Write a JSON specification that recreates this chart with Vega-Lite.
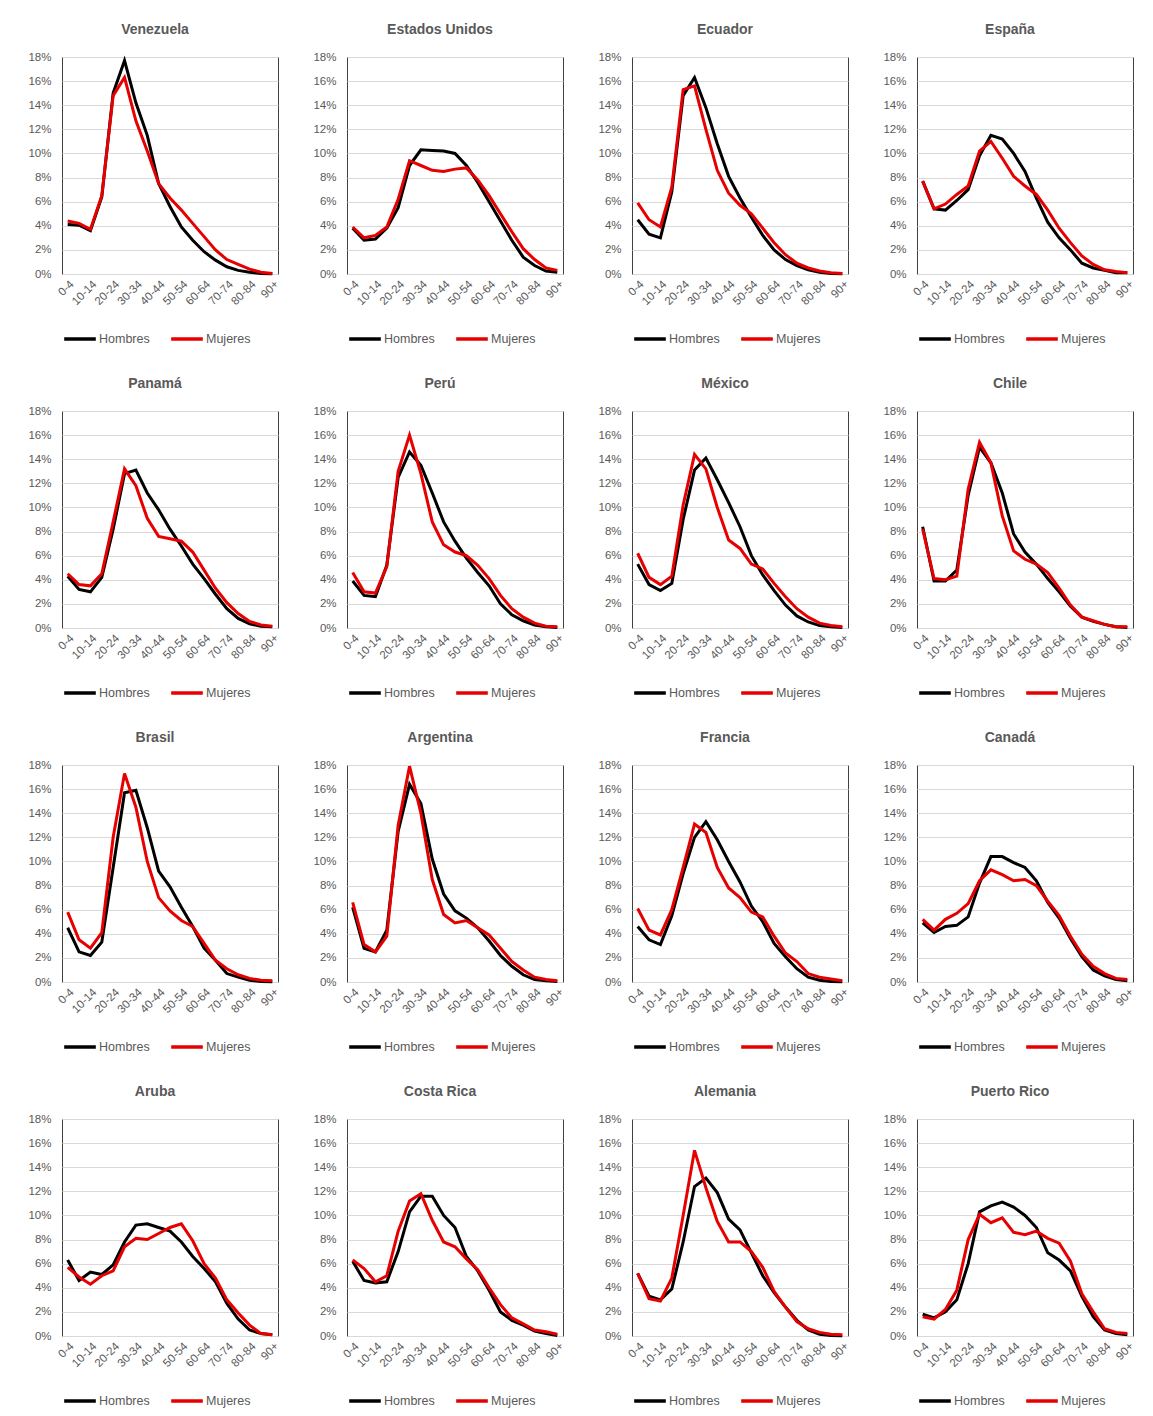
{
"$schema":"https://vega.github.io/schema/vega-lite/v6.json",
"padding":{"left":27,"top":22,"right":5,"bottom":5},
"background":"white",
"data":{"values":[
{"p":"Venezuela","g":"0-4","Hombres":4.1,"Mujeres":4.4},{"p":"Venezuela","g":"5-9","Hombres":4.05,"Mujeres":4.2},{"p":"Venezuela","g":"10-14","Hombres":3.6,"Mujeres":3.7},{"p":"Venezuela","g":"15-19","Hombres":6.4,"Mujeres":6.5},{"p":"Venezuela","g":"20-24","Hombres":15.0,"Mujeres":14.8},{"p":"Venezuela","g":"25-29","Hombres":17.7,"Mujeres":16.3},{"p":"Venezuela","g":"30-34","Hombres":14.2,"Mujeres":12.7},{"p":"Venezuela","g":"35-39","Hombres":11.5,"Mujeres":10.2},{"p":"Venezuela","g":"40-44","Hombres":7.5,"Mujeres":7.5},{"p":"Venezuela","g":"45-49","Hombres":5.6,"Mujeres":6.3},{"p":"Venezuela","g":"50-54","Hombres":3.9,"Mujeres":5.3},{"p":"Venezuela","g":"55-59","Hombres":2.8,"Mujeres":4.2},{"p":"Venezuela","g":"60-64","Hombres":1.85,"Mujeres":3.1},{"p":"Venezuela","g":"65-69","Hombres":1.15,"Mujeres":2.0},{"p":"Venezuela","g":"70-74","Hombres":0.6,"Mujeres":1.2},{"p":"Venezuela","g":"75-79","Hombres":0.3,"Mujeres":0.8},{"p":"Venezuela","g":"80-84","Hombres":0.15,"Mujeres":0.4},{"p":"Venezuela","g":"85-89","Hombres":0.05,"Mujeres":0.15},{"p":"Venezuela","g":"90+","Hombres":0.02,"Mujeres":0.05},
{"p":"Estados Unidos","g":"0-4","Hombres":3.8,"Mujeres":3.9},{"p":"Estados Unidos","g":"5-9","Hombres":2.8,"Mujeres":3.0},{"p":"Estados Unidos","g":"10-14","Hombres":2.9,"Mujeres":3.2},{"p":"Estados Unidos","g":"15-19","Hombres":3.8,"Mujeres":3.9},{"p":"Estados Unidos","g":"20-24","Hombres":5.5,"Mujeres":6.2},{"p":"Estados Unidos","g":"25-29","Hombres":9.0,"Mujeres":9.4},{"p":"Estados Unidos","g":"30-34","Hombres":10.3,"Mujeres":9.0},{"p":"Estados Unidos","g":"35-39","Hombres":10.25,"Mujeres":8.6},{"p":"Estados Unidos","g":"40-44","Hombres":10.2,"Mujeres":8.5},{"p":"Estados Unidos","g":"45-49","Hombres":10.0,"Mujeres":8.7},{"p":"Estados Unidos","g":"50-54","Hombres":9.0,"Mujeres":8.8},{"p":"Estados Unidos","g":"55-59","Hombres":7.6,"Mujeres":7.8},{"p":"Estados Unidos","g":"60-64","Hombres":6.0,"Mujeres":6.5},{"p":"Estados Unidos","g":"65-69","Hombres":4.4,"Mujeres":5.0},{"p":"Estados Unidos","g":"70-74","Hombres":2.8,"Mujeres":3.5},{"p":"Estados Unidos","g":"75-79","Hombres":1.4,"Mujeres":2.1},{"p":"Estados Unidos","g":"80-84","Hombres":0.7,"Mujeres":1.2},{"p":"Estados Unidos","g":"85-89","Hombres":0.25,"Mujeres":0.5},{"p":"Estados Unidos","g":"90+","Hombres":0.15,"Mujeres":0.3},
{"p":"Ecuador","g":"0-4","Hombres":4.5,"Mujeres":5.9},{"p":"Ecuador","g":"5-9","Hombres":3.3,"Mujeres":4.5},{"p":"Ecuador","g":"10-14","Hombres":3.0,"Mujeres":3.9},{"p":"Ecuador","g":"15-19","Hombres":6.8,"Mujeres":7.2},{"p":"Ecuador","g":"20-24","Hombres":14.8,"Mujeres":15.3},{"p":"Ecuador","g":"25-29","Hombres":16.3,"Mujeres":15.6},{"p":"Ecuador","g":"30-34","Hombres":13.8,"Mujeres":12.0},{"p":"Ecuador","g":"35-39","Hombres":10.8,"Mujeres":8.6},{"p":"Ecuador","g":"40-44","Hombres":8.1,"Mujeres":6.7},{"p":"Ecuador","g":"45-49","Hombres":6.3,"Mujeres":5.7},{"p":"Ecuador","g":"50-54","Hombres":4.7,"Mujeres":5.0},{"p":"Ecuador","g":"55-59","Hombres":3.2,"Mujeres":3.8},{"p":"Ecuador","g":"60-64","Hombres":2.0,"Mujeres":2.6},{"p":"Ecuador","g":"65-69","Hombres":1.2,"Mujeres":1.6},{"p":"Ecuador","g":"70-74","Hombres":0.7,"Mujeres":0.9},{"p":"Ecuador","g":"75-79","Hombres":0.35,"Mujeres":0.5},{"p":"Ecuador","g":"80-84","Hombres":0.15,"Mujeres":0.25},{"p":"Ecuador","g":"85-89","Hombres":0.05,"Mujeres":0.1},{"p":"Ecuador","g":"90+","Hombres":0.02,"Mujeres":0.05},
{"p":"España","g":"0-4","Hombres":7.7,"Mujeres":7.7},{"p":"España","g":"5-9","Hombres":5.4,"Mujeres":5.4},{"p":"España","g":"10-14","Hombres":5.3,"Mujeres":5.8},{"p":"España","g":"15-19","Hombres":6.1,"Mujeres":6.6},{"p":"España","g":"20-24","Hombres":7.0,"Mujeres":7.3},{"p":"España","g":"25-29","Hombres":9.8,"Mujeres":10.2},{"p":"España","g":"30-34","Hombres":11.5,"Mujeres":11.0},{"p":"España","g":"35-39","Hombres":11.2,"Mujeres":9.6},{"p":"España","g":"40-44","Hombres":10.0,"Mujeres":8.1},{"p":"España","g":"45-49","Hombres":8.5,"Mujeres":7.3},{"p":"España","g":"50-54","Hombres":6.3,"Mujeres":6.6},{"p":"España","g":"55-59","Hombres":4.3,"Mujeres":5.3},{"p":"España","g":"60-64","Hombres":3.0,"Mujeres":3.8},{"p":"España","g":"65-69","Hombres":2.0,"Mujeres":2.6},{"p":"España","g":"70-74","Hombres":0.9,"Mujeres":1.5},{"p":"España","g":"75-79","Hombres":0.5,"Mujeres":0.8},{"p":"España","g":"80-84","Hombres":0.3,"Mujeres":0.35},{"p":"España","g":"85-89","Hombres":0.1,"Mujeres":0.2},{"p":"España","g":"90+","Hombres":0.1,"Mujeres":0.1},
{"p":"Panamá","g":"0-4","Hombres":4.3,"Mujeres":4.5},{"p":"Panamá","g":"5-9","Hombres":3.2,"Mujeres":3.6},{"p":"Panamá","g":"10-14","Hombres":3.0,"Mujeres":3.5},{"p":"Panamá","g":"15-19","Hombres":4.2,"Mujeres":4.5},{"p":"Panamá","g":"20-24","Hombres":8.2,"Mujeres":8.8},{"p":"Panamá","g":"25-29","Hombres":12.8,"Mujeres":13.2},{"p":"Panamá","g":"30-34","Hombres":13.1,"Mujeres":11.8},{"p":"Panamá","g":"35-39","Hombres":11.2,"Mujeres":9.1},{"p":"Panamá","g":"40-44","Hombres":9.8,"Mujeres":7.6},{"p":"Panamá","g":"45-49","Hombres":8.2,"Mujeres":7.4},{"p":"Panamá","g":"50-54","Hombres":6.8,"Mujeres":7.2},{"p":"Panamá","g":"55-59","Hombres":5.3,"Mujeres":6.3},{"p":"Panamá","g":"60-64","Hombres":4.1,"Mujeres":4.8},{"p":"Panamá","g":"65-69","Hombres":2.8,"Mujeres":3.3},{"p":"Panamá","g":"70-74","Hombres":1.6,"Mujeres":2.1},{"p":"Panamá","g":"75-79","Hombres":0.8,"Mujeres":1.2},{"p":"Panamá","g":"80-84","Hombres":0.35,"Mujeres":0.55},{"p":"Panamá","g":"85-89","Hombres":0.15,"Mujeres":0.25},{"p":"Panamá","g":"90+","Hombres":0.1,"Mujeres":0.15},
{"p":"Perú","g":"0-4","Hombres":3.9,"Mujeres":4.6},{"p":"Perú","g":"5-9","Hombres":2.7,"Mujeres":3.0},{"p":"Perú","g":"10-14","Hombres":2.6,"Mujeres":2.9},{"p":"Perú","g":"15-19","Hombres":5.2,"Mujeres":5.1},{"p":"Perú","g":"20-24","Hombres":12.5,"Mujeres":13.0},{"p":"Perú","g":"25-29","Hombres":14.6,"Mujeres":16.0},{"p":"Perú","g":"30-34","Hombres":13.5,"Mujeres":12.8},{"p":"Perú","g":"35-39","Hombres":11.2,"Mujeres":8.8},{"p":"Perú","g":"40-44","Hombres":8.8,"Mujeres":6.9},{"p":"Perú","g":"45-49","Hombres":7.2,"Mujeres":6.3},{"p":"Perú","g":"50-54","Hombres":5.8,"Mujeres":6.0},{"p":"Perú","g":"55-59","Hombres":4.6,"Mujeres":5.2},{"p":"Perú","g":"60-64","Hombres":3.5,"Mujeres":4.1},{"p":"Perú","g":"65-69","Hombres":2.0,"Mujeres":2.7},{"p":"Perú","g":"70-74","Hombres":1.1,"Mujeres":1.6},{"p":"Perú","g":"75-79","Hombres":0.6,"Mujeres":0.9},{"p":"Perú","g":"80-84","Hombres":0.25,"Mujeres":0.4},{"p":"Perú","g":"85-89","Hombres":0.1,"Mujeres":0.15},{"p":"Perú","g":"90+","Hombres":0.05,"Mujeres":0.1},
{"p":"México","g":"0-4","Hombres":5.3,"Mujeres":6.2},{"p":"México","g":"5-9","Hombres":3.6,"Mujeres":4.2},{"p":"México","g":"10-14","Hombres":3.1,"Mujeres":3.6},{"p":"México","g":"15-19","Hombres":3.7,"Mujeres":4.3},{"p":"México","g":"20-24","Hombres":9.0,"Mujeres":10.2},{"p":"México","g":"25-29","Hombres":13.1,"Mujeres":14.4},{"p":"México","g":"30-34","Hombres":14.1,"Mujeres":13.2},{"p":"México","g":"35-39","Hombres":12.3,"Mujeres":10.0},{"p":"México","g":"40-44","Hombres":10.4,"Mujeres":7.3},{"p":"México","g":"45-49","Hombres":8.4,"Mujeres":6.6},{"p":"México","g":"50-54","Hombres":6.0,"Mujeres":5.3},{"p":"México","g":"55-59","Hombres":4.4,"Mujeres":4.9},{"p":"México","g":"60-64","Hombres":3.1,"Mujeres":3.7},{"p":"México","g":"65-69","Hombres":1.9,"Mujeres":2.6},{"p":"México","g":"70-74","Hombres":1.0,"Mujeres":1.6},{"p":"México","g":"75-79","Hombres":0.5,"Mujeres":0.9},{"p":"México","g":"80-84","Hombres":0.2,"Mujeres":0.4},{"p":"México","g":"85-89","Hombres":0.1,"Mujeres":0.2},{"p":"México","g":"90+","Hombres":0.05,"Mujeres":0.1},
{"p":"Chile","g":"0-4","Hombres":8.4,"Mujeres":8.2},{"p":"Chile","g":"5-9","Hombres":3.9,"Mujeres":4.1},{"p":"Chile","g":"10-14","Hombres":3.9,"Mujeres":4.0},{"p":"Chile","g":"15-19","Hombres":4.8,"Mujeres":4.3},{"p":"Chile","g":"20-24","Hombres":11.0,"Mujeres":11.5},{"p":"Chile","g":"25-29","Hombres":15.0,"Mujeres":15.4},{"p":"Chile","g":"30-34","Hombres":13.7,"Mujeres":13.7},{"p":"Chile","g":"35-39","Hombres":11.2,"Mujeres":9.3},{"p":"Chile","g":"40-44","Hombres":7.8,"Mujeres":6.4},{"p":"Chile","g":"45-49","Hombres":6.3,"Mujeres":5.7},{"p":"Chile","g":"50-54","Hombres":5.3,"Mujeres":5.3},{"p":"Chile","g":"55-59","Hombres":4.1,"Mujeres":4.6},{"p":"Chile","g":"60-64","Hombres":3.0,"Mujeres":3.3},{"p":"Chile","g":"65-69","Hombres":1.8,"Mujeres":1.9},{"p":"Chile","g":"70-74","Hombres":0.9,"Mujeres":0.9},{"p":"Chile","g":"75-79","Hombres":0.55,"Mujeres":0.6},{"p":"Chile","g":"80-84","Hombres":0.3,"Mujeres":0.3},{"p":"Chile","g":"85-89","Hombres":0.1,"Mujeres":0.1},{"p":"Chile","g":"90+","Hombres":0.05,"Mujeres":0.1},
{"p":"Brasil","g":"0-4","Hombres":4.5,"Mujeres":5.8},{"p":"Brasil","g":"5-9","Hombres":2.5,"Mujeres":3.5},{"p":"Brasil","g":"10-14","Hombres":2.2,"Mujeres":2.8},{"p":"Brasil","g":"15-19","Hombres":3.3,"Mujeres":4.1},{"p":"Brasil","g":"20-24","Hombres":9.5,"Mujeres":12.0},{"p":"Brasil","g":"25-29","Hombres":15.7,"Mujeres":17.3},{"p":"Brasil","g":"30-34","Hombres":15.9,"Mujeres":14.5},{"p":"Brasil","g":"35-39","Hombres":12.8,"Mujeres":10.0},{"p":"Brasil","g":"40-44","Hombres":9.2,"Mujeres":7.0},{"p":"Brasil","g":"45-49","Hombres":7.9,"Mujeres":5.9},{"p":"Brasil","g":"50-54","Hombres":6.2,"Mujeres":5.1},{"p":"Brasil","g":"55-59","Hombres":4.6,"Mujeres":4.6},{"p":"Brasil","g":"60-64","Hombres":2.8,"Mujeres":3.2},{"p":"Brasil","g":"65-69","Hombres":1.8,"Mujeres":1.8},{"p":"Brasil","g":"70-74","Hombres":0.7,"Mujeres":1.1},{"p":"Brasil","g":"75-79","Hombres":0.4,"Mujeres":0.6},{"p":"Brasil","g":"80-84","Hombres":0.15,"Mujeres":0.3},{"p":"Brasil","g":"85-89","Hombres":0.05,"Mujeres":0.15},{"p":"Brasil","g":"90+","Hombres":0.02,"Mujeres":0.1},
{"p":"Argentina","g":"0-4","Hombres":6.2,"Mujeres":6.6},{"p":"Argentina","g":"5-9","Hombres":2.8,"Mujeres":3.1},{"p":"Argentina","g":"10-14","Hombres":2.5,"Mujeres":2.5},{"p":"Argentina","g":"15-19","Hombres":4.3,"Mujeres":3.8},{"p":"Argentina","g":"20-24","Hombres":12.5,"Mujeres":13.0},{"p":"Argentina","g":"25-29","Hombres":16.4,"Mujeres":17.9},{"p":"Argentina","g":"30-34","Hombres":14.8,"Mujeres":14.0},{"p":"Argentina","g":"35-39","Hombres":10.2,"Mujeres":8.5},{"p":"Argentina","g":"40-44","Hombres":7.3,"Mujeres":5.6},{"p":"Argentina","g":"45-49","Hombres":5.9,"Mujeres":4.9},{"p":"Argentina","g":"50-54","Hombres":5.3,"Mujeres":5.1},{"p":"Argentina","g":"55-59","Hombres":4.5,"Mujeres":4.5},{"p":"Argentina","g":"60-64","Hombres":3.4,"Mujeres":3.9},{"p":"Argentina","g":"65-69","Hombres":2.2,"Mujeres":2.8},{"p":"Argentina","g":"70-74","Hombres":1.3,"Mujeres":1.7},{"p":"Argentina","g":"75-79","Hombres":0.6,"Mujeres":1.0},{"p":"Argentina","g":"80-84","Hombres":0.2,"Mujeres":0.4},{"p":"Argentina","g":"85-89","Hombres":0.1,"Mujeres":0.2},{"p":"Argentina","g":"90+","Hombres":0.05,"Mujeres":0.1},
{"p":"Francia","g":"0-4","Hombres":4.6,"Mujeres":6.1},{"p":"Francia","g":"5-9","Hombres":3.5,"Mujeres":4.3},{"p":"Francia","g":"10-14","Hombres":3.1,"Mujeres":3.9},{"p":"Francia","g":"15-19","Hombres":5.5,"Mujeres":6.0},{"p":"Francia","g":"20-24","Hombres":9.0,"Mujeres":9.5},{"p":"Francia","g":"25-29","Hombres":12.0,"Mujeres":13.1},{"p":"Francia","g":"30-34","Hombres":13.3,"Mujeres":12.4},{"p":"Francia","g":"35-39","Hombres":11.8,"Mujeres":9.5},{"p":"Francia","g":"40-44","Hombres":10.0,"Mujeres":7.8},{"p":"Francia","g":"45-49","Hombres":8.3,"Mujeres":7.0},{"p":"Francia","g":"50-54","Hombres":6.3,"Mujeres":5.8},{"p":"Francia","g":"55-59","Hombres":5.0,"Mujeres":5.4},{"p":"Francia","g":"60-64","Hombres":3.2,"Mujeres":3.8},{"p":"Francia","g":"65-69","Hombres":2.1,"Mujeres":2.4},{"p":"Francia","g":"70-74","Hombres":1.1,"Mujeres":1.7},{"p":"Francia","g":"75-79","Hombres":0.4,"Mujeres":0.7},{"p":"Francia","g":"80-84","Hombres":0.15,"Mujeres":0.4},{"p":"Francia","g":"85-89","Hombres":0.05,"Mujeres":0.25},{"p":"Francia","g":"90+","Hombres":0.02,"Mujeres":0.1},
{"p":"Canadá","g":"0-4","Hombres":4.9,"Mujeres":5.2},{"p":"Canadá","g":"5-9","Hombres":4.1,"Mujeres":4.3},{"p":"Canadá","g":"10-14","Hombres":4.6,"Mujeres":5.2},{"p":"Canadá","g":"15-19","Hombres":4.7,"Mujeres":5.7},{"p":"Canadá","g":"20-24","Hombres":5.4,"Mujeres":6.5},{"p":"Canadá","g":"25-29","Hombres":8.2,"Mujeres":8.4},{"p":"Canadá","g":"30-34","Hombres":10.4,"Mujeres":9.3},{"p":"Canadá","g":"35-39","Hombres":10.4,"Mujeres":8.9},{"p":"Canadá","g":"40-44","Hombres":9.9,"Mujeres":8.4},{"p":"Canadá","g":"45-49","Hombres":9.5,"Mujeres":8.5},{"p":"Canadá","g":"50-54","Hombres":8.4,"Mujeres":8.0},{"p":"Canadá","g":"55-59","Hombres":6.6,"Mujeres":6.7},{"p":"Canadá","g":"60-64","Hombres":5.3,"Mujeres":5.5},{"p":"Canadá","g":"65-69","Hombres":3.6,"Mujeres":3.8},{"p":"Canadá","g":"70-74","Hombres":2.1,"Mujeres":2.3},{"p":"Canadá","g":"75-79","Hombres":1.0,"Mujeres":1.3},{"p":"Canadá","g":"80-84","Hombres":0.5,"Mujeres":0.7},{"p":"Canadá","g":"85-89","Hombres":0.2,"Mujeres":0.3},{"p":"Canadá","g":"90+","Hombres":0.1,"Mujeres":0.2},
{"p":"Aruba","g":"0-4","Hombres":6.3,"Mujeres":5.7},{"p":"Aruba","g":"5-9","Hombres":4.6,"Mujeres":4.9},{"p":"Aruba","g":"10-14","Hombres":5.3,"Mujeres":4.3},{"p":"Aruba","g":"15-19","Hombres":5.1,"Mujeres":5.0},{"p":"Aruba","g":"20-24","Hombres":5.9,"Mujeres":5.4},{"p":"Aruba","g":"25-29","Hombres":7.8,"Mujeres":7.4},{"p":"Aruba","g":"30-34","Hombres":9.2,"Mujeres":8.1},{"p":"Aruba","g":"35-39","Hombres":9.3,"Mujeres":8.0},{"p":"Aruba","g":"40-44","Hombres":9.0,"Mujeres":8.5},{"p":"Aruba","g":"45-49","Hombres":8.7,"Mujeres":9.0},{"p":"Aruba","g":"50-54","Hombres":7.8,"Mujeres":9.3},{"p":"Aruba","g":"55-59","Hombres":6.6,"Mujeres":7.9},{"p":"Aruba","g":"60-64","Hombres":5.6,"Mujeres":6.0},{"p":"Aruba","g":"65-69","Hombres":4.5,"Mujeres":4.8},{"p":"Aruba","g":"70-74","Hombres":2.7,"Mujeres":3.0},{"p":"Aruba","g":"75-79","Hombres":1.4,"Mujeres":1.9},{"p":"Aruba","g":"80-84","Hombres":0.5,"Mujeres":0.9},{"p":"Aruba","g":"85-89","Hombres":0.2,"Mujeres":0.2},{"p":"Aruba","g":"90+","Hombres":0.1,"Mujeres":0.1},
{"p":"Costa Rica","g":"0-4","Hombres":6.2,"Mujeres":6.3},{"p":"Costa Rica","g":"5-9","Hombres":4.6,"Mujeres":5.6},{"p":"Costa Rica","g":"10-14","Hombres":4.4,"Mujeres":4.5},{"p":"Costa Rica","g":"15-19","Hombres":4.5,"Mujeres":5.0},{"p":"Costa Rica","g":"20-24","Hombres":7.0,"Mujeres":8.7},{"p":"Costa Rica","g":"25-29","Hombres":10.3,"Mujeres":11.2},{"p":"Costa Rica","g":"30-34","Hombres":11.6,"Mujeres":11.8},{"p":"Costa Rica","g":"35-39","Hombres":11.6,"Mujeres":9.6},{"p":"Costa Rica","g":"40-44","Hombres":10.0,"Mujeres":7.8},{"p":"Costa Rica","g":"45-49","Hombres":9.0,"Mujeres":7.4},{"p":"Costa Rica","g":"50-54","Hombres":6.6,"Mujeres":6.4},{"p":"Costa Rica","g":"55-59","Hombres":5.4,"Mujeres":5.5},{"p":"Costa Rica","g":"60-64","Hombres":3.8,"Mujeres":4.0},{"p":"Costa Rica","g":"65-69","Hombres":2.0,"Mujeres":2.6},{"p":"Costa Rica","g":"70-74","Hombres":1.3,"Mujeres":1.5},{"p":"Costa Rica","g":"75-79","Hombres":0.9,"Mujeres":1.0},{"p":"Costa Rica","g":"80-84","Hombres":0.4,"Mujeres":0.5},{"p":"Costa Rica","g":"85-89","Hombres":0.2,"Mujeres":0.35},{"p":"Costa Rica","g":"90+","Hombres":0.05,"Mujeres":0.15},
{"p":"Alemania","g":"0-4","Hombres":5.2,"Mujeres":5.2},{"p":"Alemania","g":"5-9","Hombres":3.3,"Mujeres":3.1},{"p":"Alemania","g":"10-14","Hombres":3.0,"Mujeres":2.9},{"p":"Alemania","g":"15-19","Hombres":3.9,"Mujeres":4.8},{"p":"Alemania","g":"20-24","Hombres":7.8,"Mujeres":10.0},{"p":"Alemania","g":"25-29","Hombres":12.4,"Mujeres":15.4},{"p":"Alemania","g":"30-34","Hombres":13.1,"Mujeres":12.3},{"p":"Alemania","g":"35-39","Hombres":11.9,"Mujeres":9.5},{"p":"Alemania","g":"40-44","Hombres":9.7,"Mujeres":7.8},{"p":"Alemania","g":"45-49","Hombres":8.8,"Mujeres":7.8},{"p":"Alemania","g":"50-54","Hombres":6.9,"Mujeres":7.0},{"p":"Alemania","g":"55-59","Hombres":5.0,"Mujeres":5.7},{"p":"Alemania","g":"60-64","Hombres":3.6,"Mujeres":3.7},{"p":"Alemania","g":"65-69","Hombres":2.4,"Mujeres":2.4},{"p":"Alemania","g":"70-74","Hombres":1.3,"Mujeres":1.2},{"p":"Alemania","g":"75-79","Hombres":0.5,"Mujeres":0.6},{"p":"Alemania","g":"80-84","Hombres":0.15,"Mujeres":0.3},{"p":"Alemania","g":"85-89","Hombres":0.05,"Mujeres":0.15},{"p":"Alemania","g":"90+","Hombres":0.02,"Mujeres":0.1},
{"p":"Puerto Rico","g":"0-4","Hombres":1.8,"Mujeres":1.6},{"p":"Puerto Rico","g":"5-9","Hombres":1.5,"Mujeres":1.4},{"p":"Puerto Rico","g":"10-14","Hombres":2.0,"Mujeres":2.2},{"p":"Puerto Rico","g":"15-19","Hombres":3.0,"Mujeres":3.8},{"p":"Puerto Rico","g":"20-24","Hombres":6.0,"Mujeres":8.0},{"p":"Puerto Rico","g":"25-29","Hombres":10.3,"Mujeres":10.1},{"p":"Puerto Rico","g":"30-34","Hombres":10.8,"Mujeres":9.4},{"p":"Puerto Rico","g":"35-39","Hombres":11.1,"Mujeres":9.8},{"p":"Puerto Rico","g":"40-44","Hombres":10.7,"Mujeres":8.6},{"p":"Puerto Rico","g":"45-49","Hombres":10.0,"Mujeres":8.4},{"p":"Puerto Rico","g":"50-54","Hombres":9.0,"Mujeres":8.7},{"p":"Puerto Rico","g":"55-59","Hombres":6.9,"Mujeres":8.1},{"p":"Puerto Rico","g":"60-64","Hombres":6.3,"Mujeres":7.7},{"p":"Puerto Rico","g":"65-69","Hombres":5.4,"Mujeres":6.2},{"p":"Puerto Rico","g":"70-74","Hombres":3.3,"Mujeres":3.5},{"p":"Puerto Rico","g":"75-79","Hombres":1.6,"Mujeres":2.0},{"p":"Puerto Rico","g":"80-84","Hombres":0.5,"Mujeres":0.6},{"p":"Puerto Rico","g":"85-89","Hombres":0.2,"Mujeres":0.3},{"p":"Puerto Rico","g":"90+","Hombres":0.1,"Mujeres":0.2}
]},
"transform":[{"fold":["Hombres","Mujeres"],"as":["s","v"]}],
"columns":4,
"spacing":{"row":29,"column":31},
"resolve":{"scale":{"color":"independent"}},
"concat":[
{"title":"Venezuela","width":216,"height":217,"transform":[{"filter":"datum.p==='Venezuela'"}],"mark":{"type":"line","strokeWidth":3},"encoding":{"x":{"field":"g","type":"ordinal","title":null,"scale":{"domain":["0-4","5-9","10-14","15-19","20-24","25-29","30-34","35-39","40-44","45-49","50-54","55-59","60-64","65-69","70-74","75-79","80-84","85-89","90+"]},"axis":{"values":["0-4","10-14","20-24","30-34","40-44","50-54","60-64","70-74","80-84","90+"]}},"y":{"field":"v","type":"quantitative","title":null,"scale":{"domain":[0,18]},"axis":{"labelExpr":"datum.value + '%'"}},"color":{"field":"s","type":"nominal","legend":{"title":null}}}},
{"title":"Estados Unidos","width":216,"height":217,"transform":[{"filter":"datum.p==='Estados Unidos'"}],"mark":{"type":"line","strokeWidth":3},"encoding":{"x":{"field":"g","type":"ordinal","title":null,"scale":{"domain":["0-4","5-9","10-14","15-19","20-24","25-29","30-34","35-39","40-44","45-49","50-54","55-59","60-64","65-69","70-74","75-79","80-84","85-89","90+"]},"axis":{"values":["0-4","10-14","20-24","30-34","40-44","50-54","60-64","70-74","80-84","90+"]}},"y":{"field":"v","type":"quantitative","title":null,"scale":{"domain":[0,18]},"axis":{"labelExpr":"datum.value + '%'"}},"color":{"field":"s","type":"nominal","legend":{"title":null}}}},
{"title":"Ecuador","width":216,"height":217,"transform":[{"filter":"datum.p==='Ecuador'"}],"mark":{"type":"line","strokeWidth":3},"encoding":{"x":{"field":"g","type":"ordinal","title":null,"scale":{"domain":["0-4","5-9","10-14","15-19","20-24","25-29","30-34","35-39","40-44","45-49","50-54","55-59","60-64","65-69","70-74","75-79","80-84","85-89","90+"]},"axis":{"values":["0-4","10-14","20-24","30-34","40-44","50-54","60-64","70-74","80-84","90+"]}},"y":{"field":"v","type":"quantitative","title":null,"scale":{"domain":[0,18]},"axis":{"labelExpr":"datum.value + '%'"}},"color":{"field":"s","type":"nominal","legend":{"title":null}}}},
{"title":"España","width":216,"height":217,"transform":[{"filter":"datum.p==='España'"}],"mark":{"type":"line","strokeWidth":3},"encoding":{"x":{"field":"g","type":"ordinal","title":null,"scale":{"domain":["0-4","5-9","10-14","15-19","20-24","25-29","30-34","35-39","40-44","45-49","50-54","55-59","60-64","65-69","70-74","75-79","80-84","85-89","90+"]},"axis":{"values":["0-4","10-14","20-24","30-34","40-44","50-54","60-64","70-74","80-84","90+"]}},"y":{"field":"v","type":"quantitative","title":null,"scale":{"domain":[0,18]},"axis":{"labelExpr":"datum.value + '%'"}},"color":{"field":"s","type":"nominal","legend":{"title":null}}}},
{"title":"Panamá","width":216,"height":217,"transform":[{"filter":"datum.p==='Panamá'"}],"mark":{"type":"line","strokeWidth":3},"encoding":{"x":{"field":"g","type":"ordinal","title":null,"scale":{"domain":["0-4","5-9","10-14","15-19","20-24","25-29","30-34","35-39","40-44","45-49","50-54","55-59","60-64","65-69","70-74","75-79","80-84","85-89","90+"]},"axis":{"values":["0-4","10-14","20-24","30-34","40-44","50-54","60-64","70-74","80-84","90+"]}},"y":{"field":"v","type":"quantitative","title":null,"scale":{"domain":[0,18]},"axis":{"labelExpr":"datum.value + '%'"}},"color":{"field":"s","type":"nominal","legend":{"title":null}}}},
{"title":"Perú","width":216,"height":217,"transform":[{"filter":"datum.p==='Perú'"}],"mark":{"type":"line","strokeWidth":3},"encoding":{"x":{"field":"g","type":"ordinal","title":null,"scale":{"domain":["0-4","5-9","10-14","15-19","20-24","25-29","30-34","35-39","40-44","45-49","50-54","55-59","60-64","65-69","70-74","75-79","80-84","85-89","90+"]},"axis":{"values":["0-4","10-14","20-24","30-34","40-44","50-54","60-64","70-74","80-84","90+"]}},"y":{"field":"v","type":"quantitative","title":null,"scale":{"domain":[0,18]},"axis":{"labelExpr":"datum.value + '%'"}},"color":{"field":"s","type":"nominal","legend":{"title":null}}}},
{"title":"México","width":216,"height":217,"transform":[{"filter":"datum.p==='México'"}],"mark":{"type":"line","strokeWidth":3},"encoding":{"x":{"field":"g","type":"ordinal","title":null,"scale":{"domain":["0-4","5-9","10-14","15-19","20-24","25-29","30-34","35-39","40-44","45-49","50-54","55-59","60-64","65-69","70-74","75-79","80-84","85-89","90+"]},"axis":{"values":["0-4","10-14","20-24","30-34","40-44","50-54","60-64","70-74","80-84","90+"]}},"y":{"field":"v","type":"quantitative","title":null,"scale":{"domain":[0,18]},"axis":{"labelExpr":"datum.value + '%'"}},"color":{"field":"s","type":"nominal","legend":{"title":null}}}},
{"title":"Chile","width":216,"height":217,"transform":[{"filter":"datum.p==='Chile'"}],"mark":{"type":"line","strokeWidth":3},"encoding":{"x":{"field":"g","type":"ordinal","title":null,"scale":{"domain":["0-4","5-9","10-14","15-19","20-24","25-29","30-34","35-39","40-44","45-49","50-54","55-59","60-64","65-69","70-74","75-79","80-84","85-89","90+"]},"axis":{"values":["0-4","10-14","20-24","30-34","40-44","50-54","60-64","70-74","80-84","90+"]}},"y":{"field":"v","type":"quantitative","title":null,"scale":{"domain":[0,18]},"axis":{"labelExpr":"datum.value + '%'"}},"color":{"field":"s","type":"nominal","legend":{"title":null}}}},
{"title":"Brasil","width":216,"height":217,"transform":[{"filter":"datum.p==='Brasil'"}],"mark":{"type":"line","strokeWidth":3},"encoding":{"x":{"field":"g","type":"ordinal","title":null,"scale":{"domain":["0-4","5-9","10-14","15-19","20-24","25-29","30-34","35-39","40-44","45-49","50-54","55-59","60-64","65-69","70-74","75-79","80-84","85-89","90+"]},"axis":{"values":["0-4","10-14","20-24","30-34","40-44","50-54","60-64","70-74","80-84","90+"]}},"y":{"field":"v","type":"quantitative","title":null,"scale":{"domain":[0,18]},"axis":{"labelExpr":"datum.value + '%'"}},"color":{"field":"s","type":"nominal","legend":{"title":null}}}},
{"title":"Argentina","width":216,"height":217,"transform":[{"filter":"datum.p==='Argentina'"}],"mark":{"type":"line","strokeWidth":3},"encoding":{"x":{"field":"g","type":"ordinal","title":null,"scale":{"domain":["0-4","5-9","10-14","15-19","20-24","25-29","30-34","35-39","40-44","45-49","50-54","55-59","60-64","65-69","70-74","75-79","80-84","85-89","90+"]},"axis":{"values":["0-4","10-14","20-24","30-34","40-44","50-54","60-64","70-74","80-84","90+"]}},"y":{"field":"v","type":"quantitative","title":null,"scale":{"domain":[0,18]},"axis":{"labelExpr":"datum.value + '%'"}},"color":{"field":"s","type":"nominal","legend":{"title":null}}}},
{"title":"Francia","width":216,"height":217,"transform":[{"filter":"datum.p==='Francia'"}],"mark":{"type":"line","strokeWidth":3},"encoding":{"x":{"field":"g","type":"ordinal","title":null,"scale":{"domain":["0-4","5-9","10-14","15-19","20-24","25-29","30-34","35-39","40-44","45-49","50-54","55-59","60-64","65-69","70-74","75-79","80-84","85-89","90+"]},"axis":{"values":["0-4","10-14","20-24","30-34","40-44","50-54","60-64","70-74","80-84","90+"]}},"y":{"field":"v","type":"quantitative","title":null,"scale":{"domain":[0,18]},"axis":{"labelExpr":"datum.value + '%'"}},"color":{"field":"s","type":"nominal","legend":{"title":null}}}},
{"title":"Canadá","width":216,"height":217,"transform":[{"filter":"datum.p==='Canadá'"}],"mark":{"type":"line","strokeWidth":3},"encoding":{"x":{"field":"g","type":"ordinal","title":null,"scale":{"domain":["0-4","5-9","10-14","15-19","20-24","25-29","30-34","35-39","40-44","45-49","50-54","55-59","60-64","65-69","70-74","75-79","80-84","85-89","90+"]},"axis":{"values":["0-4","10-14","20-24","30-34","40-44","50-54","60-64","70-74","80-84","90+"]}},"y":{"field":"v","type":"quantitative","title":null,"scale":{"domain":[0,18]},"axis":{"labelExpr":"datum.value + '%'"}},"color":{"field":"s","type":"nominal","legend":{"title":null}}}},
{"title":"Aruba","width":216,"height":217,"transform":[{"filter":"datum.p==='Aruba'"}],"mark":{"type":"line","strokeWidth":3},"encoding":{"x":{"field":"g","type":"ordinal","title":null,"scale":{"domain":["0-4","5-9","10-14","15-19","20-24","25-29","30-34","35-39","40-44","45-49","50-54","55-59","60-64","65-69","70-74","75-79","80-84","85-89","90+"]},"axis":{"values":["0-4","10-14","20-24","30-34","40-44","50-54","60-64","70-74","80-84","90+"]}},"y":{"field":"v","type":"quantitative","title":null,"scale":{"domain":[0,18]},"axis":{"labelExpr":"datum.value + '%'"}},"color":{"field":"s","type":"nominal","legend":{"title":null}}}},
{"title":"Costa Rica","width":216,"height":217,"transform":[{"filter":"datum.p==='Costa Rica'"}],"mark":{"type":"line","strokeWidth":3},"encoding":{"x":{"field":"g","type":"ordinal","title":null,"scale":{"domain":["0-4","5-9","10-14","15-19","20-24","25-29","30-34","35-39","40-44","45-49","50-54","55-59","60-64","65-69","70-74","75-79","80-84","85-89","90+"]},"axis":{"values":["0-4","10-14","20-24","30-34","40-44","50-54","60-64","70-74","80-84","90+"]}},"y":{"field":"v","type":"quantitative","title":null,"scale":{"domain":[0,18]},"axis":{"labelExpr":"datum.value + '%'"}},"color":{"field":"s","type":"nominal","legend":{"title":null}}}},
{"title":"Alemania","width":216,"height":217,"transform":[{"filter":"datum.p==='Alemania'"}],"mark":{"type":"line","strokeWidth":3},"encoding":{"x":{"field":"g","type":"ordinal","title":null,"scale":{"domain":["0-4","5-9","10-14","15-19","20-24","25-29","30-34","35-39","40-44","45-49","50-54","55-59","60-64","65-69","70-74","75-79","80-84","85-89","90+"]},"axis":{"values":["0-4","10-14","20-24","30-34","40-44","50-54","60-64","70-74","80-84","90+"]}},"y":{"field":"v","type":"quantitative","title":null,"scale":{"domain":[0,18]},"axis":{"labelExpr":"datum.value + '%'"}},"color":{"field":"s","type":"nominal","legend":{"title":null}}}},
{"title":"Puerto Rico","width":216,"height":217,"transform":[{"filter":"datum.p==='Puerto Rico'"}],"mark":{"type":"line","strokeWidth":3},"encoding":{"x":{"field":"g","type":"ordinal","title":null,"scale":{"domain":["0-4","5-9","10-14","15-19","20-24","25-29","30-34","35-39","40-44","45-49","50-54","55-59","60-64","65-69","70-74","75-79","80-84","85-89","90+"]},"axis":{"values":["0-4","10-14","20-24","30-34","40-44","50-54","60-64","70-74","80-84","90+"]}},"y":{"field":"v","type":"quantitative","title":null,"scale":{"domain":[0,18]},"axis":{"labelExpr":"datum.value + '%'"}},"color":{"field":"s","type":"nominal","legend":{"title":null}}}}
],
"config":{
"font":"Liberation Sans",
"view":{"stroke":"#404040","strokeWidth":1},
"range":{"category":["#000000","#e60000"]},
"title":{"fontSize":14,"fontWeight":"bold","color":"#595959","font":"Liberation Sans","offset":14,"dx":-15},
"axisX":{"labelAngle":-45,"ticks":false,"domain":false,"grid":false,"labelColor":"#595959","labelFontSize":11.5,"labelPadding":4},
"axisY":{"ticks":false,"domain":false,"gridColor":"#d9d9d9","labelColor":"#595959","labelFontSize":11.5,"labelPadding":11,"tickCount":9},
"legend":{"orient":"bottom","symbolType":"stroke","symbolStrokeWidth":3.5,"symbolSize":1000,"labelFontSize":12.5,"labelColor":"#595959","offset":14,"columnPadding":14,"labelOffset":1}
}
}
